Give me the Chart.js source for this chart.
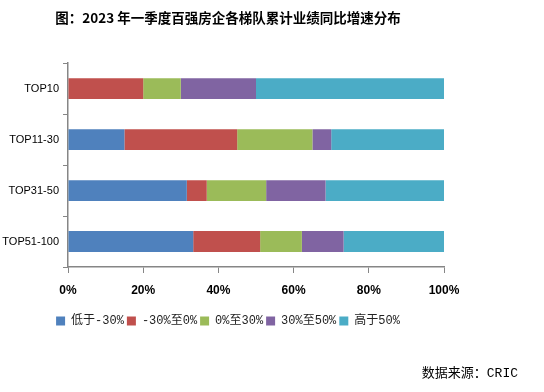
<!DOCTYPE html>
<html>
<head>
<meta charset="utf-8">
<script src="https://cdn.jsdelivr.net/npm/chart.js@4.4.0/dist/chart.umd.min.js"></script>
<style>
  body { margin: 0; background: #fff; }
  #wrap { position: relative; width: 544px; height: 392px; }
  #source {
    position: absolute; right: 26px; top: 362px;
    font: 13px "Liberation Mono", "Noto Sans CJK SC", monospace; color: #000;
  }
</style>
</head>
<body>
<div id="wrap">
  <canvas id="chart" width="544" height="392"></canvas>
  <div id="source">数据来源：CRIC</div>
</div>
<script>
// 梯队
const categories = ['TOP10', 'TOP11-30', 'TOP31-50', 'TOP51-100'];
// 各区间占比 (%)
const seriesNames = ['低于-30%', '-30%至0%', '0%至30%', '30%至50%', '高于50%'];
const below30 = [0, 15, 31.6, 33.3];
const minus30to0 = [20, 30, 5.3, 17.8];
const zeroTo30 = [10, 20, 15.8, 11.1];
const from30to50 = [20, 5, 15.8, 11.1];
const above50 = [50, 30, 31.5, 26.7];
const xTicks = [0, 20, 40, 60, 80, 100];

const colors = ['#4F81BD', '#C0504D', '#9BBB59', '#8064A2', '#4BACC6'];
const values = [below30, minus30to0, zeroTo30, from30to50, above50];

const axisColor = '#868686';

// 标题和图例在原图里稍微偏右，这里整体挪一点
const shiftTop = {
  id: 'shiftTop',
  afterLayout(chart) {
    const dx = 6;
    [chart.titleBlock, chart.legend].forEach(b => {
      if (b) { b.left += dx; b.right += dx; }
    });
  }
};

new Chart(document.getElementById('chart'), {
  type: 'bar',
  data: {
    labels: categories,
    datasets: seriesNames.map((name, i) => ({
      label: name,
      data: values[i],
      backgroundColor: colors[i],
      borderWidth: 0,
      barPercentage: 0.41,
      categoryPercentage: 1
    }))
  },
  options: {
    indexAxis: 'y',
    responsive: false,
    animation: false,
    layout: { padding: { left: 0, right: 100, top: 0, bottom: 55 } },
    plugins: {
      title: {
        display: true,
        text: '图：2023 年一季度百强房企各梯队累计业绩同比增速分布',
        color: '#000',
        font: { family: '"Noto Sans CJK SC", sans-serif', size: 13.5, weight: 'bold' },
        padding: { top: 10, bottom: 37 }
      },
      legend: {
        position: 'bottom',
        labels: {
          boxWidth: 9,
          boxHeight: 9,
          padding: 3,
          color: '#222',
          font: { family: '"Liberation Mono", "Noto Sans CJK SC", monospace', size: 12 }
        }
      },
      tooltip: { enabled: false }
    },
    scales: {
      y: {
        stacked: true,
        afterFit: (scale) => { scale.width = 68; },
        grid: {
          drawOnChartArea: false,
          color: axisColor,
          tickLength: 5
        },
        border: { color: axisColor, width: 1.5 },
        ticks: {
          padding: 4,
          color: '#000',
          font: { family: '"Liberation Sans", Arial, sans-serif', size: 11 }
        }
      },
      x: {
        stacked: true,
        min: 0,
        max: 100,
        afterFit: (scale) => { scale.height = 45; },
        afterBuildTicks: (scale) => { scale.ticks = xTicks.map(v => ({ value: v })); },
        grid: {
          drawOnChartArea: false,
          color: axisColor,
          tickLength: 6
        },
        border: { color: axisColor, width: 1.5 },
        ticks: {
          padding: 10,
          color: '#000',
          font: { family: '"Liberation Sans", Arial, sans-serif', size: 12, weight: 'bold' },
          callback: (v) => v + '%'
        }
      }
    }
  },
  plugins: [shiftTop]
});
</script>
</body>
</html>
